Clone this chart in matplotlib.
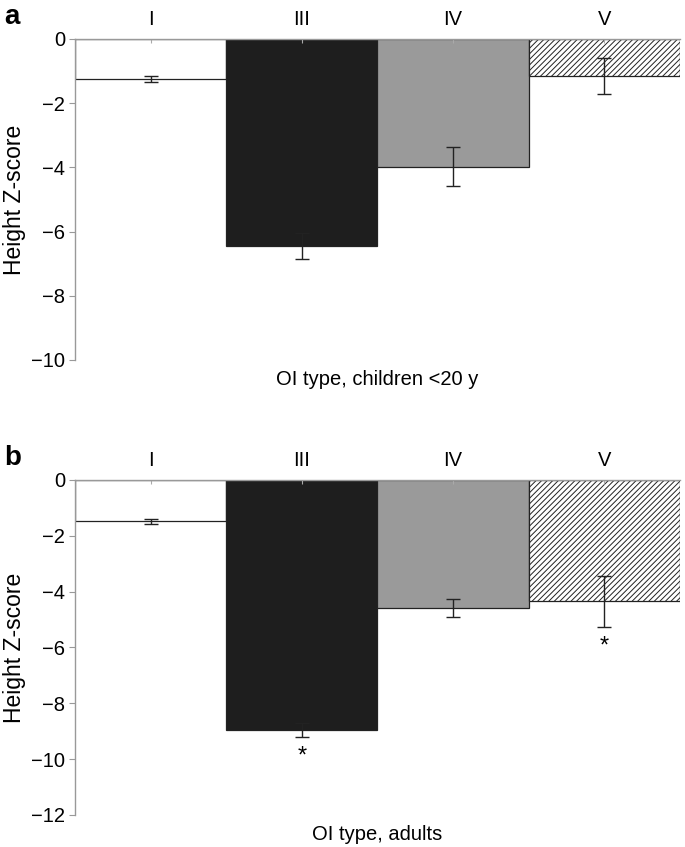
import matplotlib
matplotlib.use("Agg")
import matplotlib.pyplot as plt

plt.rcParams['font.family'] = ['Liberation Sans', 'DejaVu Sans']
plt.rcParams['hatch.linewidth'] = 0.7
plt.rcParams['hatch.color'] = '#8a8a8a'

types = ["I", "III", "IV", "V"]

# children <20 y
kids_mean = [-1.25, -6.45, -3.98, -1.15]
kids_err = [0.1, 0.4, 0.6, 0.55]

# adults
adult_mean = [-1.48, -8.95, -4.6, -4.35]
adult_err = [0.08, 0.25, 0.32, 0.92]
adult_star = [False, True, False, True]

colors = ['white', '#1e1e1e', '#9a9a9a', 'white']
hatches = [None, None, None, '//////']

fig = plt.figure(figsize=(6.85, 8.47), dpi=100)


def panel(rect, means, errs, ymin, xlabel, letter, stars=None):
    ax = fig.add_axes(rect)
    x = range(len(types))
    for i in x:
        ax.bar(i, means[i], width=1.0, color=colors[i], edgecolor='#222222',
               linewidth=0.9, hatch=hatches[i], zorder=1)
        ax.errorbar(i, means[i], yerr=errs[i], color='#222222', capsize=5,
                    elinewidth=1.0, capthick=1.0, zorder=2)
        if stars and stars[i]:
            ax.text(i, means[i] - errs[i] - 0.3, '*', ha='center', va='top',
                    fontsize=17)
    ax.set_xlim(-0.5, 3.5)
    ax.set_ylim(ymin, 0)
    ax.set_yticks(range(ymin, 1, 2))
    ax.set_yticklabels([str(v).replace('-', '\u2212') for v in range(ymin, 1, 2)])
    ax.xaxis.tick_top()
    ax.set_xticks(list(x))
    ax.set_xticklabels(types, fontsize=14.5)
    ax.tick_params(axis='x', length=3, color='#aaaaaa', direction='in', pad=7)
    ax.tick_params(axis='y', length=4, color='#999999', labelsize=14.5, pad=3)
    for s in ['right', 'bottom']:
        ax.spines[s].set_visible(False)
    for s in ['left', 'top']:
        ax.spines[s].set_color('#999999')
        ax.spines[s].set_linewidth(1.0)
        ax.spines[s].set_zorder(3)
    ax.set_ylabel('Height Z-score', fontsize=16.5, labelpad=4)
    ax.text(0.5, -0.03, xlabel, transform=ax.transAxes, ha='center', va='top',
            fontsize=14.5)
    fig.text(0.006, rect[1] + rect[3] + 0.041, letter, fontsize=20,
             fontweight='bold', va='top')
    return ax


panel([0.1095, 0.575, 0.883, 0.379], kids_mean, kids_err, -10,
      'OI type, children <20 y', 'a')
panel([0.1095, 0.0378, 0.883, 0.3955], adult_mean, adult_err, -12,
      'OI type, adults', 'b', adult_star)

fig.savefig('out.png', dpi=100)
